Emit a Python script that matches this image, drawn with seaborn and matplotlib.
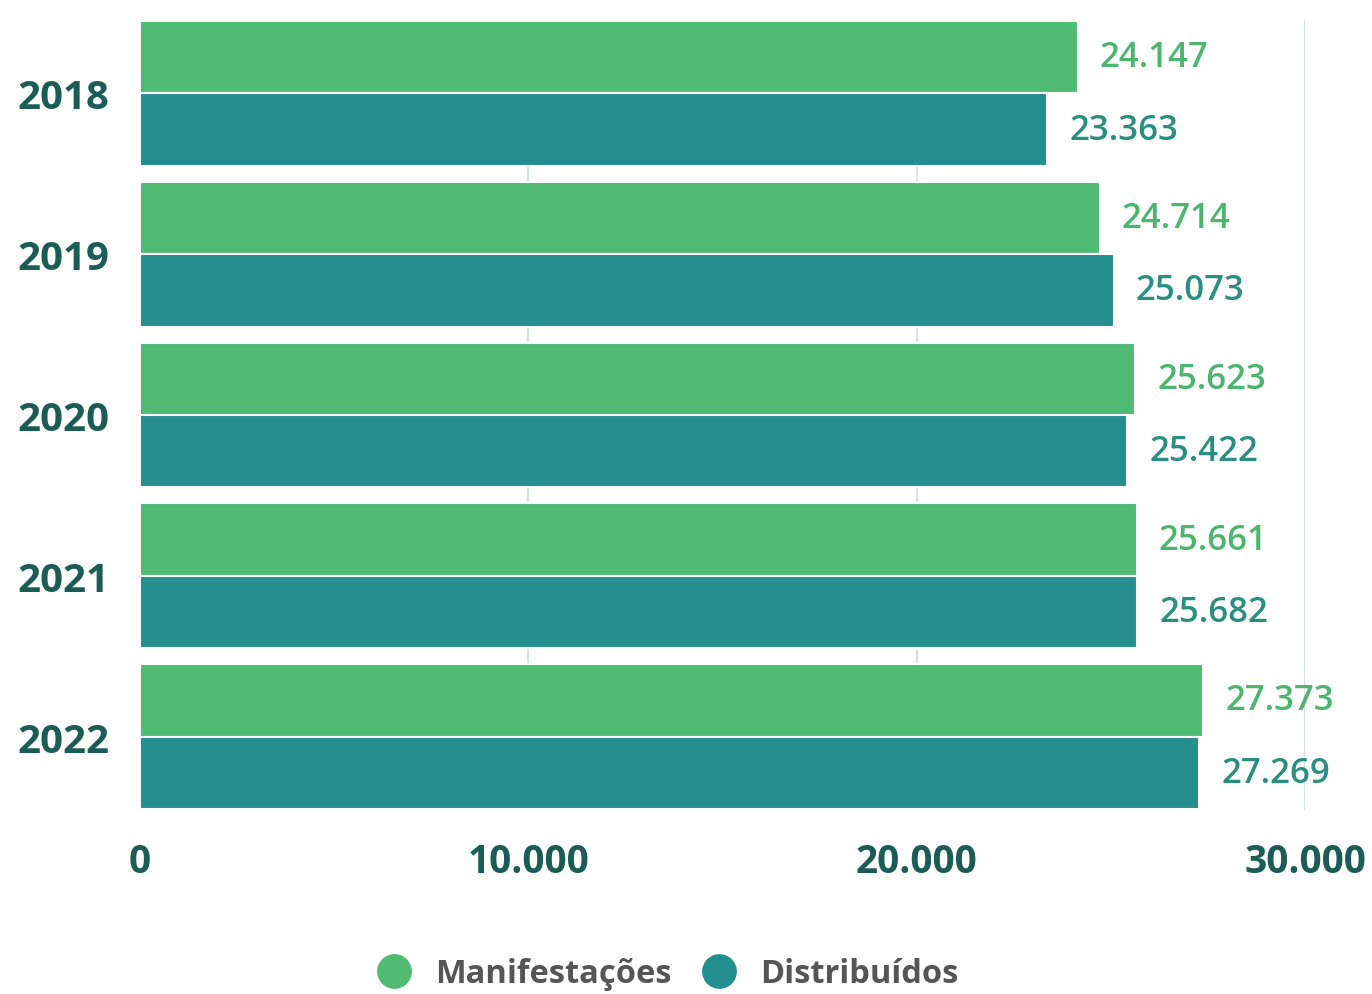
import pandas as pd
import seaborn as sns
import matplotlib.pyplot as plt
from matplotlib.lines import Line2D

# Data
years = ['2018', '2019', '2020', '2021', '2022']
manifestacoes = [24147, 24714, 25623, 25661, 27373]
distribuidos = [23363, 25073, 25422, 25682, 27269]
series = ['Manifestações', 'Distribuídos']
xticks = [0, 10000, 20000, 30000]

colors = {'Manifestações': '#4fbb73', 'Distribuídos': '#258e8f'}
label_colors = {'Manifestações': '#4cb56e', 'Distribuídos': '#2a8f82'}

df = pd.DataFrame({
    'Ano': years * 2,
    'Valor': manifestacoes + distribuidos,
    'Serie': [series[0]] * len(years) + [series[1]] * len(years),
})


def fmt(v):
    return f'{int(round(v)):,}'.replace(',', '.')


sns.set_style('white')
plt.rcParams['font.family'] = ['Open Sans', 'DejaVu Sans']

fig = plt.figure(figsize=(13.72, 9.95), dpi=100)
ax = fig.add_axes([140 / 1372, 1 - 818 / 995, (1305 - 140) / 1372, (818 - 14) / 995])

sns.barplot(data=df, x='Valor', y='Ano', hue='Serie', palette=colors, orient='h',
            width=0.9, saturation=1, edgecolor='white', linewidth=1.5, legend=False,
            ax=ax, zorder=2)

# value labels
for cont, name in zip(ax.containers, series):
    ax.bar_label(cont, labels=[fmt(v) for v in cont.datavalues], padding=16,
                 fontsize=25, fontweight='semibold', color=label_colors[name])

ax.set_xlim(0, 30000)
ax.set_ylim(4.5, -0.5)
ax.set_xticks(xticks)
ax.set_xticklabels([fmt(v) for v in xticks])
for sp in ax.spines.values():
    sp.set_visible(False)
for x in xticks[1:]:
    ax.axvline(x, ymin=0.01, ymax=0.99, color='#d5e2e6', lw=1.5, zorder=1)

ax.tick_params(axis='x', length=0, pad=18, labelsize=28, labelcolor='#1b5c57')
ax.tick_params(axis='y', length=0, pad=22, labelsize=29, labelcolor='#1b5c57')
for t in ax.get_xticklabels() + ax.get_yticklabels():
    t.set_fontweight('bold')
ax.set_xlabel('')
ax.set_ylabel('')

handles = [Line2D([], [], marker='o', linestyle='', markersize=24,
                  markerfacecolor=colors[s], markeredgecolor=colors[s]) for s in series]
fig.legend(handles, series, loc='center', bbox_to_anchor=(0.481, 1 - 975 / 995), ncol=2,
           frameon=False, handletextpad=0.25, columnspacing=0.45,
           prop={'size': 23.5, 'weight': 'bold'}, labelcolor='#555555')

plt.savefig('out.png', dpi=100)
